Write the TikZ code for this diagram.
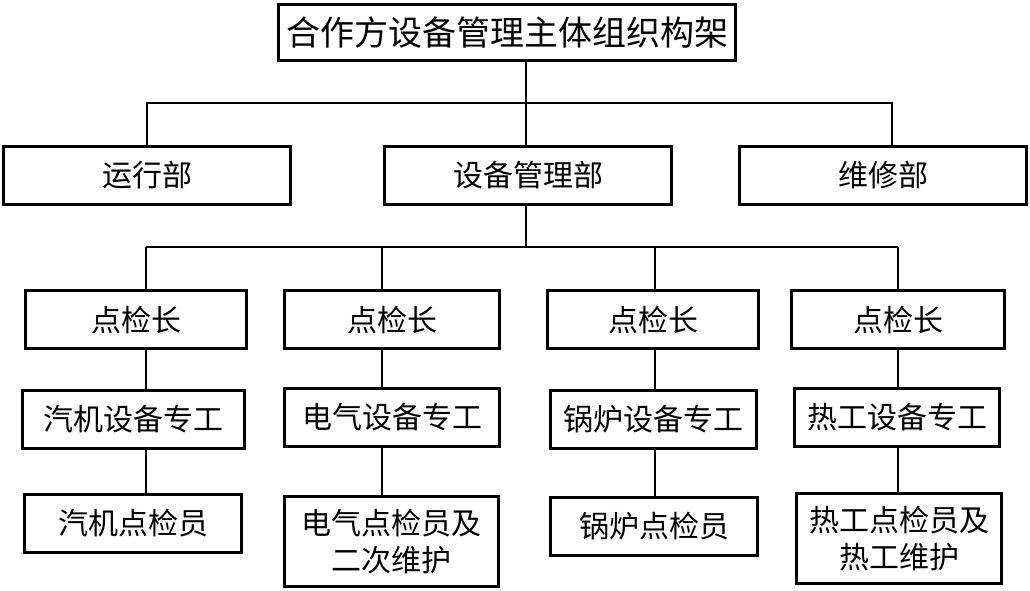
\documentclass[tikz,border=0pt]{standalone}
\usepackage{fontspec}
\usepackage{tikz}
\usetikzlibrary{positioning,calc}
\newfontfamily\cjk{Noto Sans CJK SC}
\tikzset{
    every picture/.style={line join=miter},
    orgbox/.style={draw=black,fill=white,line width=3pt,inner sep=0pt,
      minimum height=58pt,font=\cjk\fontsize{30}{37}\selectfont,align=center},
    link/.style={draw=black,line width=1.3pt}
}

\begin{document}
\begin{tikzpicture}[x=1pt,y=-1pt]
  \useasboundingbox (0,0) rectangle (1030,590);
  % top and departments
  \node[orgbox,minimum width=457,minimum height=56,
    font=\cjk\fontsize{34}{40}\selectfont] (top) at (507,32.5) {合作方设备管理主体组织构架};
  \foreach \n/\x/\t in {yun/147/运行部,she/528/设备管理部,wei/883/维修部} {
    \node[orgbox,minimum width=287] (\n) at (\x,175) {\t};
  }
  % four columns
  \foreach \i/\x/\w in {1/136/221,2/392/215,3/653/211,4/898/213} {
    \node[orgbox,minimum width=\w] (chief\i) at (\x,319.5) {点检长};
  }
  \foreach \i/\x/\y/\w/\t in {1/133.5/419.5/222/汽机设备专工,2/392/417/215/电气设备专工,
      3/653.5/419.5/206/锅炉设备专工,4/897/417.5/205/热工设备专工} {
    \node[orgbox,minimum width=\w] (spec\i) at (\x,\y) {\t};
  }
  \foreach \i/\x/\y/\w/\h/\t in {1/133/523.5/217/58/{汽机点检员},2/391.5/541.5/214/90/{电气点检员及\\二次维护},
      3/654/526.5/207/58/{锅炉点检员},4/899/538.5/205/90/{热工点检员及\\热工维护}} {
    \node[orgbox,minimum width=\w,minimum height=\h] (insp\i) at (\x,\y) {\t};
  }
  % connectors
  \coordinate (hub1) at (526,103);
  \coordinate (hub2) at (526,247);
  \draw[link] (top.south -| hub1) -- (hub1 |- she.north);
  \draw[link] (yun.north) |- (hub1) -| ([xshift=9]wei.north);
  \draw[link] (hub2 |- she.south) -- (hub2);
  \foreach \i/\lx in {1/146,2/382,3/655,4/898} {
    \coordinate (col\i) at (\lx,247);
  }
  \draw[link] (col1) -- (col4);
  \foreach \i in {1,...,4} {
    \draw[link] (col\i) -- (col\i |- chief\i.north);
    \draw[link] (col\i |- chief\i.south) -- (col\i |- spec\i.north);
    \draw[link] (col\i |- spec\i.south) -- (col\i |- insp\i.north);
  }
\end{tikzpicture}
\end{document}
